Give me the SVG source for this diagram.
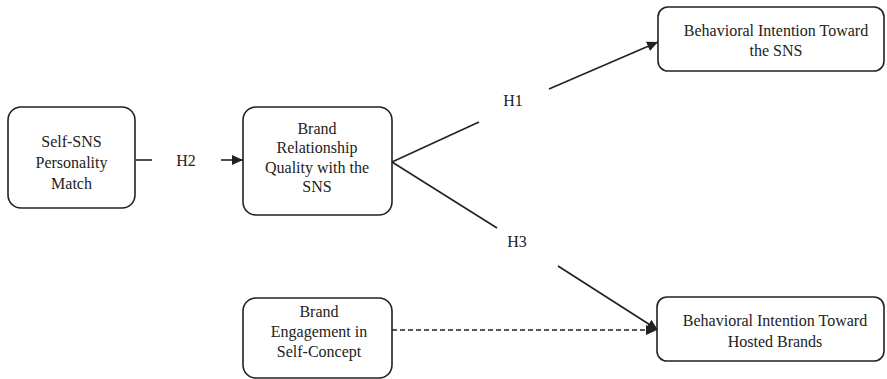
<svg xmlns="http://www.w3.org/2000/svg" width="887" height="379" viewBox="0 0 887 379">
<style>
.box{fill:#fff;stroke:#222;stroke-width:1.6}
.t{font-family:"Liberation Serif","Times New Roman",serif;font-size:16px;fill:#222;text-anchor:middle}
.ln{stroke:#222;stroke-width:1.6;fill:none}
.dash{stroke-dasharray:5 3}
</style>
<defs>
<marker id="ah" markerUnits="userSpaceOnUse" markerWidth="12" markerHeight="10" refX="11" refY="5" orient="auto">
<path d="M0,0 L11,5 L0,10 Z" fill="#222"/>
</marker>
</defs>
<rect width="887" height="379" fill="#fff"/>
<g id="connectors">
<line class="ln" x1="136" y1="160" x2="152" y2="160"/>
<line class="ln" x1="221" y1="160" x2="243" y2="160" marker-end="url(#ah)"/>
<line class="ln" x1="392" y1="162" x2="479" y2="122"/>
<line class="ln" x1="549" y1="89" x2="658" y2="42" marker-end="url(#ah)"/>
<line class="ln" x1="392" y1="162" x2="497" y2="228"/>
<line class="ln" x1="558" y1="266" x2="658" y2="330" marker-end="url(#ah)"/>
<line class="ln dash" x1="392" y1="330" x2="657" y2="330" marker-end="url(#ah)"/>
<text class="t" x="186" y="165.5">H2</text>
<text class="t" x="513" y="105.5">H1</text>
<text class="t" x="517" y="246.5">H3</text>
</g>
<g id="self-sns">
<rect class="box" x="8" y="107" width="127" height="101" rx="13"/>
<text class="t" x="71.5" y="146.5">Self-SNS</text>
<text class="t" x="71.5" y="167.5">Personality</text>
<text class="t" x="71.5" y="188.5">Match</text>
</g>
<g id="brand-relationship">
<rect class="box" x="243" y="107" width="149" height="108" rx="13"/>
<text class="t" x="317" y="134">Brand</text>
<text class="t" x="317" y="153">Relationship</text>
<text class="t" x="317" y="172.5">Quality with the</text>
<text class="t" x="317" y="191.5">SNS</text>
</g>
<g id="bi-sns">
<rect class="box" x="658" y="7" width="226" height="64" rx="10"/>
<text class="t" x="776" y="36">Behavioral Intention Toward</text>
<text class="t" x="776" y="56">the SNS</text>
</g>
<g id="brand-engagement">
<rect class="box" x="243" y="298" width="149" height="80" rx="13"/>
<text class="t" x="319" y="316.5">Brand</text>
<text class="t" x="319" y="337">Engagement in</text>
<text class="t" x="319" y="357">Self-Concept</text>
</g>
<g id="bi-brands">
<rect class="box" x="657" y="297" width="227" height="64" rx="10"/>
<text class="t" x="775" y="326">Behavioral Intention Toward</text>
<text class="t" x="775" y="347">Hosted Brands</text>
</g>
</svg>
